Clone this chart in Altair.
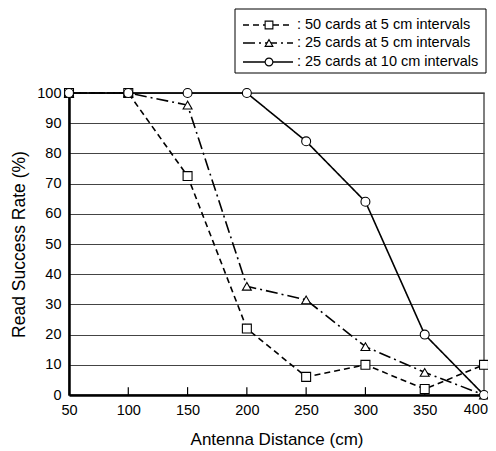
import altair as alt
import pandas as pd

distances = [50, 100, 150, 200, 250, 300, 350, 400]
series_names = [": 50 cards at 5 cm intervals",
                ": 25 cards at 5 cm intervals",
                ": 25 cards at 10 cm intervals"]
rate_50_5 = [100, 100, 72.5, 22, 6, 10, 2, 10]
rate_25_5 = [100, 100, 96, 36, 31.5, 16, 7.5, 0]
rate_25_10 = [100, 100, 100, 100, 84, 64, 20, 0]
x_ticks = [50, 100, 150, 200, 250, 300, 350]
last_tick = [400]
inner_ticks = [100, 150, 200, 250, 300, 350]
y_ticks = [0, 10, 20, 30, 40, 50, 60, 70, 80, 90, 100]

rows = []
for name, vals in zip(series_names, [rate_50_5, rate_25_5, rate_25_10]):
    for d, v in zip(distances, vals):
        rows.append({"series": name, "dist": d, "rate": v})
df = pd.DataFrame(rows)
leg = pd.DataFrame({"series": series_names})
tk = pd.DataFrame({"dist": inner_ticks, "rate": [0] * len(inner_ticks),
                   "y1": [2.6] * len(inner_ticks)})
lt = pd.DataFrame({"dist": last_tick, "rate": [0], "lab": [str(v) for v in last_tick]})

FONT = "Liberation Sans"
LABEL_SIZE = 14.5
dash_scale = alt.Scale(domain=series_names, range=[[6, 4], [12, 4, 2, 4], [1, 0]])
shape_scale = alt.Scale(domain=series_names, range=["square", "triangle-up", "circle"])
xs = alt.Scale(domain=[50, 400])
ys = alt.Scale(domain=[0, 100])

x_axis = alt.Axis(values=x_ticks, title="Antenna Distance (cm)", tickSize=0,
                  labelPadding=8, labelFontSize=LABEL_SIZE, titleFontSize=17,
                  titleFontWeight="normal", titlePadding=15, grid=False,
                  labelFlush=False,
                  domainColor="black", domainWidth=2.5, labelColor="black",
                  titleColor="black", labelFont=FONT, titleFont=FONT)
y_axis = alt.Axis(values=y_ticks, title="Read Success Rate (%)", tickSize=0,
                  labelPadding=8, labelFontSize=LABEL_SIZE, titleFontSize=17.5,
                  titleFontWeight="normal", titlePadding=8, grid=True,
                  gridColor="#444", gridWidth=1, domainColor="black",
                  domainWidth=2.5, labelColor="black", titleColor="black",
                  labelFont=FONT, titleFont=FONT)

lines = alt.Chart(df).mark_line(color="black", strokeWidth=1.6).encode(
    x=alt.X("dist:Q", scale=xs, axis=x_axis),
    y=alt.Y("rate:Q", scale=ys, axis=y_axis),
    strokeDash=alt.StrokeDash("series:N", scale=dash_scale, legend=None),
    detail="series:N",
)

points = alt.Chart(df).mark_point(filled=True, fill="white", stroke="black",
                                  strokeWidth=1.1, size=80, opacity=1).encode(
    x=alt.X("dist:Q", scale=xs, axis=x_axis),
    y=alt.Y("rate:Q", scale=ys, axis=y_axis),
    shape=alt.Shape("series:N", scale=shape_scale, legend=None),
    order=alt.Order("series:N", sort="descending"),
)

ticks = alt.Chart(tk).mark_rule(color="black", strokeWidth=1.2).encode(
    x=alt.X("dist:Q", scale=xs, axis=x_axis),
    y=alt.Y("rate:Q", scale=ys, axis=y_axis), y2="y1:Q")

last_label = alt.Chart(lt).mark_text(align="right", baseline="top", dx=4, dy=8,
                                     font=FONT, fontSize=LABEL_SIZE,
                                     color="black").encode(
    x=alt.X("dist:Q", scale=xs, axis=x_axis),
    y=alt.Y("rate:Q", scale=ys, axis=y_axis), text="lab:N")

box = alt.Chart(pd.DataFrame({"a": [0]})).mark_rect(
    fill="white", stroke="black", strokeWidth=1).encode(
    x=alt.value(166), x2=alt.value(417), y=alt.value(-84), y2=alt.value(-20))

legend_layers = [box]
row_y = [-68, -50, -31]
for name, yy in zip(series_names, row_y):
    base = alt.Chart(leg).transform_filter(alt.datum.series == name)
    legend_layers.append(base.mark_rule(color="black", strokeWidth=1.6).encode(
        x=alt.value(174), x2=alt.value(224), y=alt.value(yy),
        strokeDash=alt.StrokeDash("series:N", scale=dash_scale, legend=None)))
    legend_layers.append(base.mark_point(filled=True, fill="white", stroke="black",
                                         strokeWidth=1.1, size=60, opacity=1).encode(
        x=alt.value(200), y=alt.value(yy),
        shape=alt.Shape("series:N", scale=shape_scale, legend=None)))
    legend_layers.append(base.mark_text(align="left", baseline="middle", font=FONT,
                                        fontSize=14.5, color="black").encode(
        x=alt.value(228), y=alt.value(yy), text="series:N"))

chart = alt.layer(lines, ticks, points, last_label, *legend_layers).properties(
    width=415, height=302,
    autosize=alt.AutoSizeParams(type="none"),
    padding={"left": 61, "top": 85, "right": 4, "bottom": 57},
).configure_view(stroke="#555", strokeWidth=1.5)

chart.save("out.html", embed_options={"renderer": "svg", "actions": False})
